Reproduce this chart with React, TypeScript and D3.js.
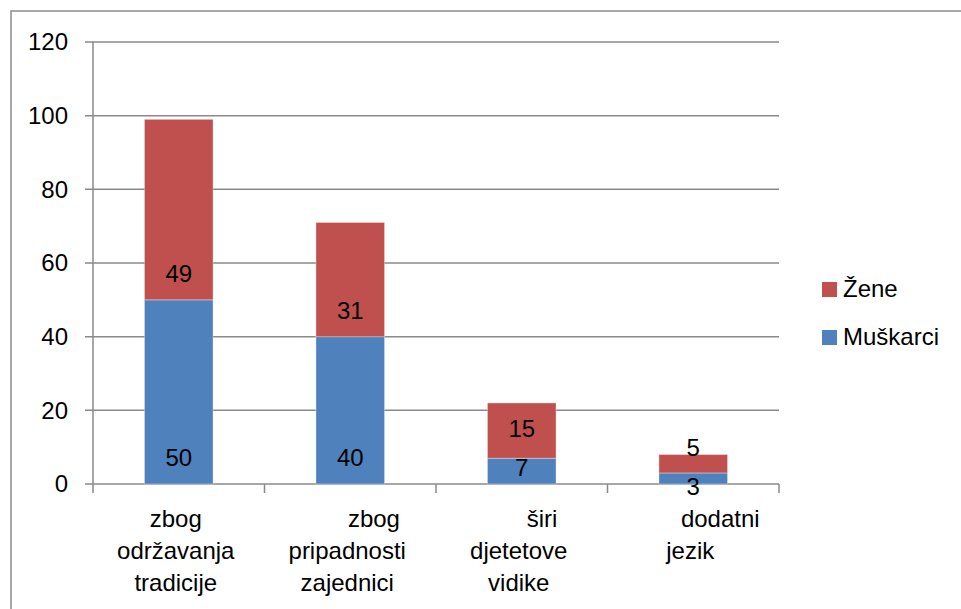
import React from "react";
import * as d3 from "d3";

const categories = ["zbog održavanja tradicije", "zbog pripadnosti zajednici", "širi djetetove vidike", "dodatni jezik"];
const categoryLines = [
  ["zbog", "održavanja", "tradicije"],
  ["\u00A0\u00A0\u00A0\u00A0\u00A0\u00A0\u00A0\u00A0zbog", "pripadnosti", "zajednici"],
  ["\u00A0\u00A0\u00A0\u00A0\u00A0\u00A0\u00A0širi", "djetetove", "vidike"],
  ["\u00A0\u00A0\u00A0\u00A0\u00A0\u00A0\u00A0\u00A0\u00A0dodatni", "jezik"],
];
const muskarci = [50, 40, 7, 3];
const zene = [49, 31, 15, 5];
const yTicks = [0, 20, 40, 60, 80, 100, 120];
const seriesNames = ["Muškarci", "Žene"];
const seriesColors = ["#4F81BD", "#C0504D"];

const W = 961;
const H = 609;
const FONT = "'Liberation Sans', Arial, sans-serif";
const GRID = "#8a8a8a";

export default function App() {
  const y = d3.scaleLinear().domain([0, 120]).range([484, 42]);
  const x = d3.scaleBand<string>().domain(categories).range([93, 779]);
  const bw = x.bandwidth() * 0.4;

  const stackData = categories.map((c, i) => ({ cat: c, Muškarci: muskarci[i], Žene: zene[i] }));
  const stack = d3.stack<any>().keys(seriesNames)(stackData);

  // label positions per bar
  const labels: { x: number; y: number; text: string }[] = [];
  categories.forEach((c, i) => {
    const cx = (x(c) as number) + x.bandwidth() / 2;
    const ls = stack.map((s) => {
      const [v0, v1] = s[i];
      const base = y(v0);
      const top = y(v1);
      const h = base - top;
      const ly = h >= 40 ? base - 26 : (base + top) / 2;
      return { x: cx, y: ly, text: String(v1 - v0) };
    });
    // resolve collisions
    const minSep = 39;
    for (let k = 1; k < ls.length; k++) {
      const a = ls[k - 1];
      const b = ls[k];
      if (a.y - b.y < minSep) {
        const mid = (a.y + b.y) / 2 - 4;
        a.y = mid + minSep / 2;
        b.y = mid - minSep / 2;
      }
    }
    labels.push(...ls);
  });

  const ticksX = [...categories.map((c) => x(c) as number), 779];

  return (
    <svg width={W} height={H} style={{ position: "absolute", left: 0, top: 0, background: "#fff" }} fontFamily={FONT}>
      <rect x={0} y={0} width={W} height={H} fill="#fff" />
      <rect x={11} y={11} width={W + 20} height={H + 20} fill="none" stroke="#8c8c8c" strokeWidth={1.5} />
      {/* gridlines */}
      {yTicks.map((t) => (
        <line key={t} x1={85} x2={779} y1={y(t)} y2={y(t)} stroke={GRID} strokeWidth={1.5} />
      ))}
      {/* y axis */}
      <line x1={93} x2={93} y1={y(120)} y2={y(0)} stroke={GRID} strokeWidth={1.5} />
      {yTicks.map((t) => (
        <text key={"l" + t} x={68} y={y(t)} dy="0.35em" textAnchor="end" fontSize={24} fill="#000">
          {t}
        </text>
      ))}
      {/* x ticks */}
      {ticksX.map((tx, i) => (
        <line key={"xt" + i} x1={tx} x2={tx} y1={y(0)} y2={y(0) + 9} stroke={GRID} strokeWidth={1.5} />
      ))}
      {/* bars */}
      {stack.map((s, si) => (
        <g key={s.key}>
          {s.map((d, i) => (
            <rect
              key={i}
              x={(x(categories[i]) as number) + (x.bandwidth() - bw) / 2}
              y={y(d[1])}
              width={bw}
              height={y(d[0]) - y(d[1])}
              fill={seriesColors[si]}
              stroke="rgba(255,255,255,0.35)"
              strokeWidth={1}
            />
          ))}
        </g>
      ))}
      {/* value labels */}
      {labels.map((l, i) => (
        <text key={"v" + i} x={l.x} y={l.y} dy="0.35em" textAnchor="middle" fontSize={24} fill="#000">
          {l.text}
        </text>
      ))}
      {/* category labels */}
      {categories.map((c, i) => {
        const cx = (x(c) as number) + x.bandwidth() / 2 - 3;
        return (
          <text key={"c" + i} x={cx} y={527} textAnchor="middle" fontSize={24} fill="#000" style={{ whiteSpace: "pre" }}>
            {categoryLines[i].map((ln, j) => (
              <tspan key={j} x={cx} y={527 + j * 32}>
                {ln}
              </tspan>
            ))}
          </text>
        );
      })}
      {/* legend */}
      {[1, 0].map((si, k) => (
        <g key={"lg" + si}>
          <rect x={822} y={282 + k * 48} width={15} height={15} fill={seriesColors[si]} />
          <text x={843} y={297 + k * 48} fontSize={24} fill="#000">
            {seriesNames[si]}
          </text>
        </g>
      ))}
    </svg>
  );
}
